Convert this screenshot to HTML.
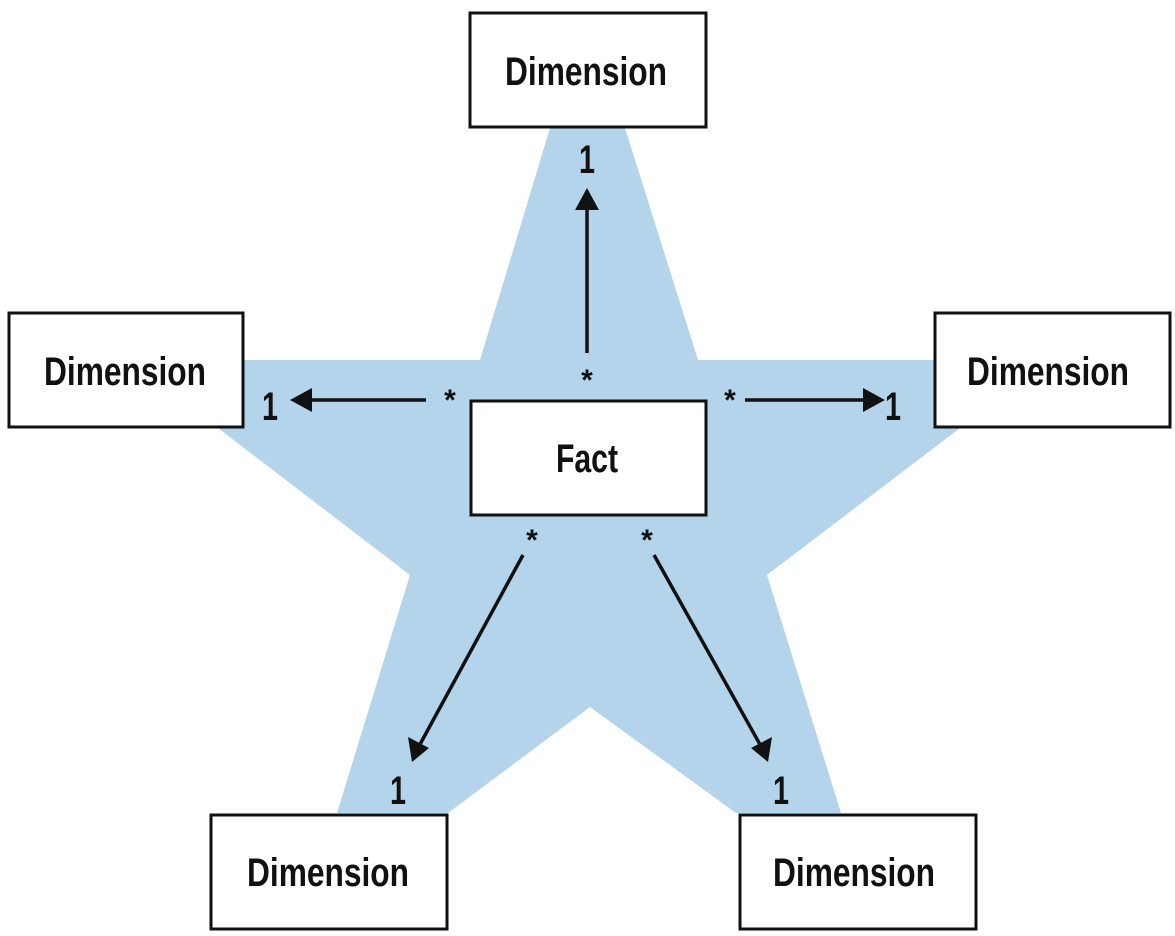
<!DOCTYPE html>
<html><head><meta charset="utf-8"><style>
html,body{margin:0;padding:0;background:#fff;}
svg{display:block;}
text{font-family:"Liberation Sans Narrow","Liberation Sans",sans-serif;fill:#111;font-weight:bold;}
</style></head><body>
<svg width="1175" height="936" viewBox="0 0 1175 936" xmlns="http://www.w3.org/2000/svg">
<polygon fill="#b3d4ea" points="550,128 625,128 698,360 934,360 960,428 767,575 841,813 736,813 590,707 448,813 337,813 410,575 218,428 244,360 480,360"/>
<g fill="#fff" stroke="#111" stroke-width="3">
<rect x="470" y="13" width="236" height="114"/>
<rect x="9" y="313" width="234" height="114"/>
<rect x="935" y="313" width="235" height="114"/>
<rect x="471" y="401" width="235" height="114"/>
<rect x="211" y="815" width="236" height="114"/>
<rect x="740" y="815" width="236" height="114"/>
</g>
<g font-size="40" text-anchor="middle">
<text x="586" y="85" textLength="162" lengthAdjust="spacingAndGlyphs">Dimension</text>
<text x="125" y="385" textLength="162" lengthAdjust="spacingAndGlyphs">Dimension</text>
<text x="1048" y="385" textLength="162" lengthAdjust="spacingAndGlyphs">Dimension</text>
<text x="587" y="472" textLength="62" lengthAdjust="spacingAndGlyphs">Fact</text>
<text x="328" y="886" textLength="162" lengthAdjust="spacingAndGlyphs">Dimension</text>
<text x="854" y="886" textLength="162" lengthAdjust="spacingAndGlyphs">Dimension</text>
</g>
<g stroke="#111" stroke-width="3.5">
<line x1="587" y1="353" x2="587" y2="205"/>
<line x1="426" y1="400" x2="305" y2="400"/>
<line x1="745" y1="400" x2="870" y2="400"/>
<line x1="523" y1="555" x2="418" y2="748"/>
<line x1="654" y1="555" x2="762" y2="748"/>
</g>
<g fill="#111">
<polygon points="587,188 575,210 599,210"/>
<polygon points="290,400 312,388 312,412"/>
<polygon points="885,400 863,388 863,412"/>
<polygon points="412,762 408,737 429,748"/>
<polygon points="768,762 751,748 772,737"/>
</g>
<g font-size="40" text-anchor="middle">
<text x="587" y="173" textLength="16" lengthAdjust="spacingAndGlyphs">1</text>
<text x="270" y="420" textLength="16" lengthAdjust="spacingAndGlyphs">1</text>
<text x="893" y="420" textLength="16" lengthAdjust="spacingAndGlyphs">1</text>
<text x="398" y="804" textLength="16" lengthAdjust="spacingAndGlyphs">1</text>
<text x="781" y="804" textLength="16" lengthAdjust="spacingAndGlyphs">1</text>
</g>
<g font-size="30" text-anchor="middle">
<text x="587" y="390">*</text>
<text x="450" y="410">*</text>
<text x="730" y="410">*</text>
<text x="532" y="550">*</text>
<text x="647" y="550">*</text>
</g>
</svg>
</body></html>
